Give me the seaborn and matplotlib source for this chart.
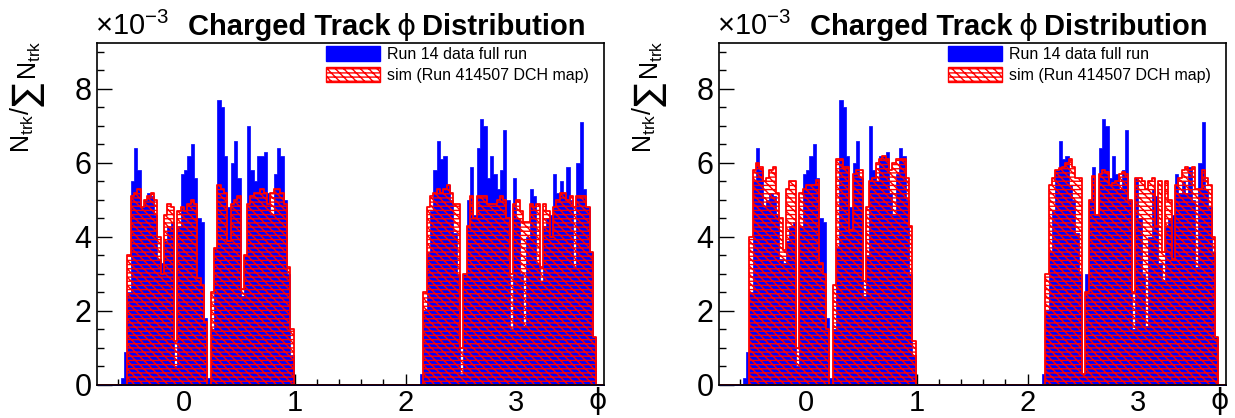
import numpy as np
import seaborn as sns
import matplotlib.pyplot as plt
from matplotlib.patches import Patch
from matplotlib.ticker import MultipleLocator


# values in units of 1e-3, bins 0.03 wide
# cluster A starts at phi=-0.60, cluster B at phi=2.13
data_A = [0, 0.2, 0.9, 2.5, 5.5, 6.4, 5.8, 4.8, 5.0, 5.2,
          5.1, 4.6, 3.4, 3.3, 3.9, 4.3, 4.4, 0.5, 4.3, 5.7,
          5.8, 6.2, 6.5, 5.6, 4.5, 4.4, 1.8, 0.2, 1.5, 3.7,
          7.7, 7.5, 6.2, 4.8, 6.0, 6.6, 5.6, 2.4, 3.5, 7.0,
          5.8, 5.5, 6.2, 6.2, 6.3, 5.2, 4.6, 5.7, 6.4, 6.2,
          5.0, 3.0, 0.8]
data_B = [0.3, 2.0, 3.6, 4.7, 5.8, 6.6, 6.1, 6.2, 5.4, 5.0,
          4.1, 3.0, 0.3, 3.0, 5.0, 5.9, 4.6, 6.4, 7.2, 7.0,
          5.6, 6.2, 5.7, 5.3, 5.8, 6.9, 5.0, 1.5, 5.6, 4.5,
          3.0, 1.6, 4.0, 5.3, 5.1, 3.3, 2.8, 4.3, 4.5, 4.6,
          5.7, 5.2, 5.5, 5.2, 5.9, 5.0, 3.2, 6.0, 7.1, 5.3,
          4.8, 3.6, 1.3, 0]

# sim, left panel
sim1_A = [0, 0, 0, 3.5, 5.1, 5.2, 5.3, 4.8, 5.0, 5.1,
          5.2, 5.0, 4.0, 3.0, 4.6, 4.9, 4.8, 1.2, 4.7, 4.8,
          4.7, 4.9, 5.0, 4.9, 2.9, 2.7, 1.7, 0, 2.5, 3.7,
          5.4, 5.3, 5.2, 3.9, 4.9, 5.0, 5.1, 2.6, 3.5, 4.9,
          5.1, 5.2, 5.2, 5.3, 5.2, 4.9, 5.2, 5.3, 5.3, 5.2,
          4.9, 3.2, 1.5]
sim1_B = [0, 2.5, 4.8, 5.1, 5.2, 5.3, 5.2, 5.3, 5.4, 5.2,
          4.9, 4.9, 1.0, 3.0, 4.3, 5.1, 4.5, 5.1, 5.1, 5.1,
          4.9, 4.9, 4.9, 5.0, 5.1, 5.0, 4.5, 3.0, 4.9, 5.0,
          4.7, 4.4, 4.4, 4.9, 4.8, 4.9, 3.2, 4.9, 4.7, 4.0,
          4.8, 5.0, 5.2, 5.2, 5.0, 5.1, 4.8, 5.1, 5.1, 5.1,
          4.8, 3.6, 1.3, 0]

# sim, right panel
sim2_A = [0, 0, 0, 4.0, 5.8, 6.0, 5.9, 5.5, 5.6, 5.8,
          5.9, 5.2, 4.5, 3.65, 5.3, 5.5, 5.5, 1.0, 5.2, 5.3,
          5.4, 5.4, 5.4, 5.55, 3.3, 3.0, 1.5, 0, 2.7, 6.1,
          6.1, 5.9, 5.9, 4.2, 5.7, 5.8, 5.8, 2.8, 4.8, 5.5,
          5.6, 6.0, 6.1, 6.2, 6.1, 5.8, 6.0, 6.1, 6.1, 6.1,
          5.6, 4.3, 1.2]
sim2_B = [0, 3.0, 5.4, 5.6, 5.8, 5.85, 5.9, 6.0, 6.1, 5.9,
          5.6, 5.6, 0.3, 2.5, 5.0, 5.65, 4.6, 5.7, 5.8, 5.75,
          5.4, 5.45, 5.5, 5.7, 5.75, 5.7, 5.0, 2.5, 5.6, 5.6,
          5.5, 5.3, 5.5, 5.6, 4.3, 5.5, 3.6, 5.5, 5.0, 3.4,
          5.4, 5.6, 5.8, 5.9, 5.8, 5.9, 5.3, 5.3, 5.8, 5.6,
          5.4, 4.0, 1.3, 0]

x_lo, x_hi = -0.785, 3.79
width = 0.03
edges = np.concatenate([[x_lo],
                        -0.60 + width * np.arange(len(data_A) + 1),
                        2.13 + width * np.arange(len(data_B) + 1),
                        [x_hi]])
centers = (edges[:-1] + edges[1:]) / 2
bin_list = [float(e) for e in edges]


def full(a, b):
    return np.concatenate([[0], a, [0], b, [0]])


sns.set_style("ticks")
plt.rcParams['font.family'] = ['Liberation Sans', 'DejaVu Sans']
plt.rcParams['mathtext.fontset'] = 'custom'
plt.rcParams['mathtext.rm'] = 'Liberation Sans'
plt.rcParams['mathtext.it'] = 'Liberation Sans:italic'
plt.rcParams['mathtext.bf'] = 'Liberation Sans:bold'
plt.rcParams['hatch.linewidth'] = 1.0
for key in ['text.color', 'axes.labelcolor', 'xtick.color', 'ytick.color']:
    plt.rcParams[key] = 'black'

HATCH = '\\\\\\\\----'

fig = plt.figure(figsize=(12.35, 4.18), dpi=100)
ax1 = fig.add_axes([97 / 1235, 33 / 418, 507 / 1235, 342 / 418])
ax2 = fig.add_axes([719 / 1235, 33 / 418, 507 / 1235, 342 / 418])


def ax_xy(px, py):
    # pixel offsets of the left panel -> axes fraction
    return (px - 97) / 507, (385 - py) / 342


for ax, sim_A, sim_B in [(ax1, sim1_A, sim1_B), (ax2, sim2_A, sim2_B)]:
    sns.histplot(x=centers, weights=full(data_A, data_B), bins=bin_list,
                 element='step', fill=True, color='blue', alpha=1,
                 linewidth=0.5, ax=ax)
    sns.histplot(x=centers, weights=full(sim_A, sim_B), bins=bin_list,
                 element='step', fill=True, color='red', facecolor='none',
                 edgecolor='red', hatch=HATCH, linewidth=1.3, ax=ax)

    ax.set_xlim(x_lo, x_hi)
    ax.set_ylim(0, 9.24)
    ax.set_xlabel('')
    ax.set_ylabel('')
    ax.xaxis.set_major_locator(MultipleLocator(1))
    ax.xaxis.set_minor_locator(MultipleLocator(0.2))
    ax.yaxis.set_major_locator(MultipleLocator(2))
    ax.yaxis.set_minor_locator(MultipleLocator(0.5))
    ax.tick_params(which='both', direction='in', top=False, right=False,
                   width=1)
    ax.tick_params(axis='y', which='major', length=11, pad=4, labelsize=22)
    ax.tick_params(axis='y', which='minor', length=5)
    ax.tick_params(axis='x', which='major', length=8, pad=3, labelsize=21)
    ax.tick_params(axis='x', which='minor', length=4)
    for s in ax.spines.values():
        s.set_linewidth(1.2)
        s.set_color('black')

    # title in three pieces: bold words, thin phi
    ax.text(*ax_xy(390, 35), 'Charged Track', transform=ax.transAxes,
            ha='right', va='baseline', fontsize=21, fontweight='bold')
    ax.text(*ax_xy(406, 35), 'ϕ', transform=ax.transAxes,
            ha='center', va='baseline', fontsize=21, family=['DejaVu Sans'])
    ax.text(*ax_xy(422, 35), 'Distribution', transform=ax.transAxes,
            ha='left', va='baseline', fontsize=21, fontweight='bold')
    ax.text(*ax_xy(95, 35), r'$\times\mathrm{10}^{-3}$', transform=ax.transAxes,
            ha='left', va='baseline', fontsize=21)
    ax.text(*ax_xy(598, 401), 'ϕ', transform=ax.transAxes, ha='center',
            va='center', fontsize=20, family=['DejaVu Sans'])

    # y label: N_trk / sum N_trk, rotated
    ax.text(*ax_xy(9, 153), r'$\mathrm{N}_{\mathrm{trk}}/$', transform=ax.transAxes,
            ha='left', va='bottom', rotation=90, fontsize=18)
    ax.text(*ax_xy(28, 94), '∑', transform=ax.transAxes,
            ha='center', va='center', rotation=90, fontsize=25,
            family=['DejaVu Sans'])
    ax.text(*ax_xy(17, 80), r'$\mathrm{N}_{\mathrm{trk}}$', transform=ax.transAxes,
            ha='left', va='bottom', rotation=90, fontsize=18)

    handles = [Patch(facecolor='blue', edgecolor='blue'),
               Patch(facecolor='white', edgecolor='red', hatch=HATCH)]
    ax.legend(handles, ['Run 14 data full run', 'sim (Run 414507 DCH map)'],
              loc='upper left', bbox_to_anchor=(0.445, 1.0), frameon=False,
              fontsize=11.5, handlelength=3.4, handleheight=1.05,
              borderaxespad=0.1, borderpad=0.1, labelspacing=0.3,
              handletextpad=0.4)

fig.savefig('out.png', dpi=100)
